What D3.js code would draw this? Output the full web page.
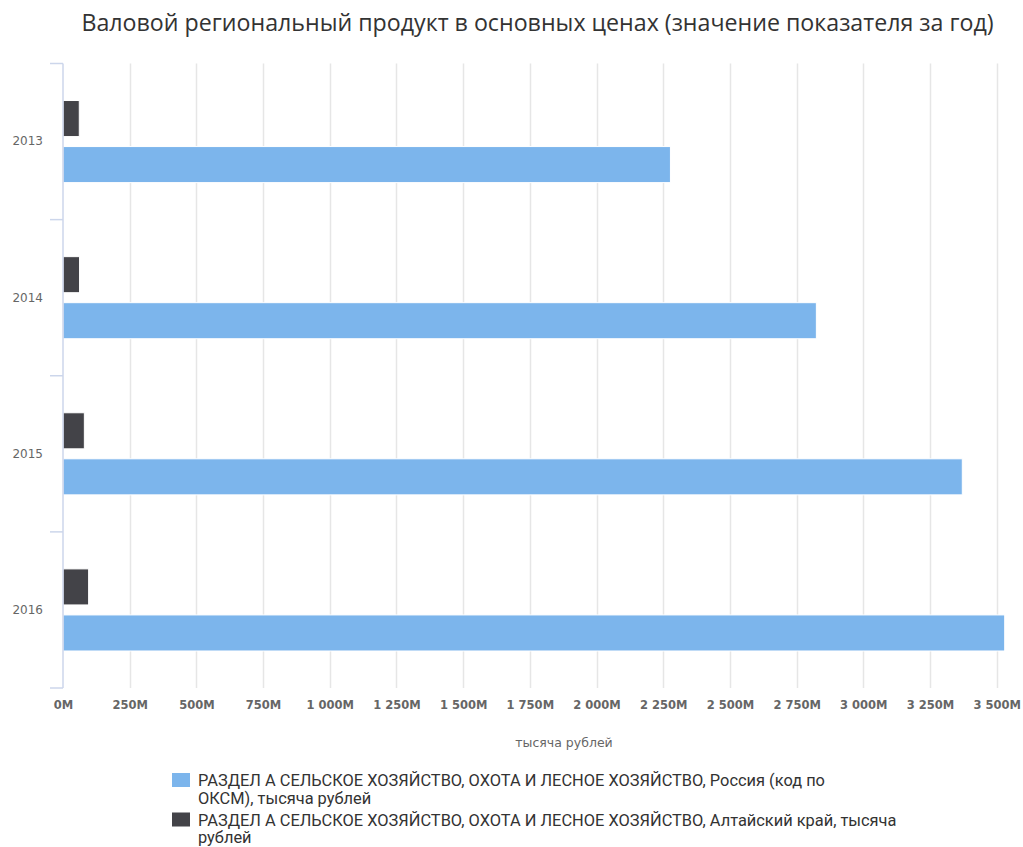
<!DOCTYPE html>
<html lang="ru">
<head>
<meta charset="utf-8">
<script src="https://cdn.jsdelivr.net/npm/d3@7"></script>
<style>
  html, body { margin: 0; padding: 0; background: #fff; }
  svg { display: block; }
</style>
</head>
<body>
<svg id="chart" width="1023" height="847"></svg>
<script>
// Years on the category axis
const years = ["2013", "2014", "2015", "2016"];

// Values, thousand rubles
const russiaValues = [2277e6, 2824e6, 3371e6, 3530e6];
const altaiValues = [61e6, 62e6, 80e6, 96e6];

// Series names (line breaks as shown in the legend)
const seriesNames = [
  "РАЗДЕЛ А СЕЛЬСКОЕ ХОЗЯЙСТВО, ОХОТА И ЛЕСНОЕ ХОЗЯЙСТВО, Россия (код по\nОКСМ), тысяча рублей",
  "РАЗДЕЛ А СЕЛЬСКОЕ ХОЗЯЙСТВО, ОХОТА И ЛЕСНОЕ ХОЗЯЙСТВО, Алтайский край, тысяча\nрублей"
];
const seriesColors = ["#7cb5ec", "#434348"];

// Value-axis ticks
const xTicks = [0, 250e6, 500e6, 750e6, 1000e6, 1250e6, 1500e6, 1750e6, 2000e6,
                2250e6, 2500e6, 2750e6, 3000e6, 3250e6, 3500e6];

const titleText = "Валовой региональный продукт в основных ценах (значение показателя за год)";
const axisTitleText = "тысяча рублей";

const series = [
  { key: "russia", name: seriesNames[0], color: seriesColors[0], values: russiaValues },
  { key: "altai", name: seriesNames[1], color: seriesColors[1], values: altaiValues }
];

const svg = d3.select("#chart");
const plot = { left: 63, right: 996.7, top: 63.5, bottom: 688 };

const x = d3.scaleLinear().domain([0, 3500e6]).range([plot.left, plot.right]);
const y = d3.scaleBand().domain(years).range([plot.top, plot.bottom]).padding(0);
// Altai bar sits above the Russia bar inside each year band
const ySub = d3.scaleBand().domain(["altai", "russia"])
  .range([0, y.bandwidth()]).paddingInner(0.217).paddingOuter(0.804);

const locale = d3.formatLocale({ decimal: ",", thousands: " ", grouping: [3], currency: ["", ""] });
const fmt = locale.format(",.0f");
const tickFormat = v => fmt(v / 1e6) + "M";

// Title
svg.append("text")
  .attr("x", 537.5).attr("y", 31)
  .attr("text-anchor", "middle")
  .attr("font-family", "'Open Sans', sans-serif")
  .attr("font-size", 23.2)
  .attr("fill", "#333")
  .text(titleText);

// Vertical grid lines
svg.append("g")
  .selectAll("line")
  .data(xTicks.slice(1))
  .join("line")
  .attr("x1", d => Math.round(x(d)) + 0.5).attr("x2", d => Math.round(x(d)) + 0.5)
  .attr("y1", plot.top).attr("y2", plot.bottom)
  .attr("stroke", "#e6e6e6").attr("stroke-width", 1.5);

// Bottom value axis labels
const xAxis = d3.axisBottom(x).tickValues(xTicks).tickFormat(tickFormat).tickSize(0).tickPadding(0);
const gx = svg.append("g").attr("transform", `translate(0,${plot.bottom + 13})`).call(xAxis);
gx.select(".domain").remove();
gx.selectAll("text")
  .attr("font-family", "'DejaVu Sans', sans-serif")
  .attr("font-size", 11.5)
  .attr("font-weight", "bold")
  .attr("fill", "#666")
  .attr("dy", "0.71em");

// Axis title
svg.append("text")
  .attr("x", 564).attr("y", 747)
  .attr("text-anchor", "middle")
  .attr("font-family", "'DejaVu Sans', sans-serif")
  .attr("font-size", 12.5)
  .attr("fill", "#666")
  .text(axisTitleText);

// Bars
series.forEach(s => {
  svg.append("g")
    .selectAll("rect")
    .data(s.values.map((v, i) => ({ year: years[i], value: v })))
    .join("rect")
    .attr("x", x(0))
    .attr("y", d => y(d.year) + ySub(s.key))
    .attr("width", d => x(d.value) - x(0))
    .attr("height", ySub.bandwidth())
    .attr("fill", s.color)
    .attr("stroke", "#fff")
    .attr("stroke-width", 1);
});

// Category axis: line, ticks at band edges, year labels
const yAxis = d3.axisLeft(y).tickSize(0).tickPadding(20);
const gy = svg.append("g").attr("transform", `translate(${plot.left},0)`).call(yAxis);
gy.select(".domain").remove();
gy.selectAll("text")
  .attr("font-family", "'DejaVu Sans', sans-serif")
  .attr("font-size", 12)
  .attr("fill", "#666");

svg.append("line")
  .attr("x1", plot.left).attr("x2", plot.left)
  .attr("y1", plot.top).attr("y2", plot.bottom)
  .attr("stroke", "#ccd6eb").attr("stroke-width", 1.5);

const edges = years.map(d => y(d)).concat([plot.bottom]);
svg.append("g")
  .selectAll("line")
  .data(edges)
  .join("line")
  .attr("x1", plot.left - 13).attr("x2", plot.left)
  .attr("y1", d => d).attr("y2", d => d)
  .attr("stroke", "#ccd6eb").attr("stroke-width", 1.5);

// Legend
const legend = svg.append("g");
const legendRows = [{ y: 786 }, { y: 825.5 }];
series.forEach((s, i) => {
  const row = legend.append("g");
  row.append("rect")
    .attr("x", 172).attr("y", legendRows[i].y - 13)
    .attr("width", 18).attr("height", 14)
    .attr("fill", s.color);
  const t = row.append("text")
    .attr("x", 198).attr("y", legendRows[i].y)
    .attr("font-family", "Roboto, sans-serif")
    .attr("font-size", 16.4)
    .attr("fill", "#333");
  s.name.split("\n").forEach((line, j) => {
    t.append("tspan").attr("x", 198).attr("dy", j === 0 ? 0 : 17.5).text(line);
  });
});
</script>
</body>
</html>
